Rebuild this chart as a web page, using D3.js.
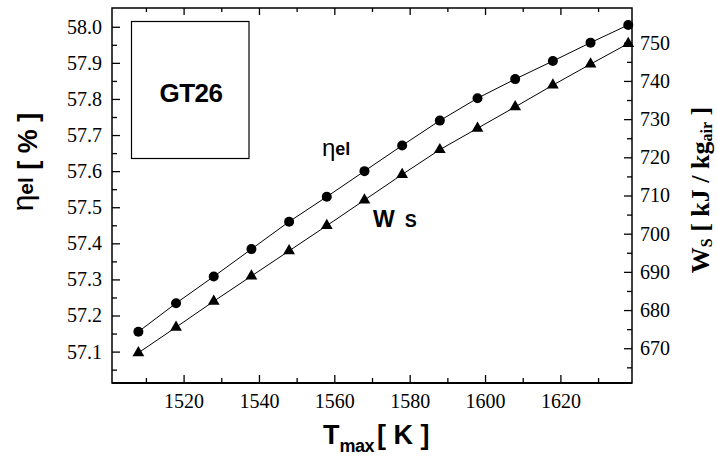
<!DOCTYPE html>
<html><head><meta charset="utf-8">
<script src="https://cdn.jsdelivr.net/npm/d3@7"></script>
<style>body{margin:0;background:#fff}svg{display:block}
.serif{font-family:"Liberation Serif","Times New Roman",Times,"DejaVu Serif",serif}
.sans{font-family:"Liberation Sans",Arial,Helvetica,sans-serif}
</style>
</head><body>
<script>
const tmax = [1508,1518,1528,1538,1548,1558,1568,1578,1588,1598,1608,1618,1628,1638];
const etaEl = [57.155,57.234,57.308,57.384,57.460,57.529,57.600,57.671,57.740,57.802,57.855,57.905,57.956,58.005];
const ws = [668.8,675.5,682.3,688.9,695.5,702.1,708.8,715.5,722.0,727.6,733.2,738.9,744.4,749.8];
const xTicks = [1520,1540,1560,1580,1600,1620];
const etaTicks = [57.1,57.2,57.3,57.4,57.5,57.6,57.7,57.8,57.9,58.0];
const wsTicks = [670,680,690,700,710,720,730,740,750];

const W=718,H=456;
const L=112,R=632,T=8,B=383;
const svg=d3.select("body").append("svg").attr("width",W).attr("height",H);
const x=d3.scaleLinear().domain([1501,1639]).range([L,R]);
const yE=d3.scaleLinear().domain([57.013,58.052]).range([B,T]);
const yW=d3.scaleLinear().domain([660.9,759.1]).range([B,T]);

function styleAxis(g){
  g.attr("font-family",null);
  g.selectAll(".domain").remove();
  g.selectAll("line").attr("stroke","#000").attr("stroke-width",1.3);
  g.selectAll("text").attr("class","serif").attr("font-size",20).attr("fill","#000");
}
const xMinor=d3.range(1510,1640,10).filter(v=>v%20!==0);
svg.append("g").attr("transform",`translate(0,${B})`).call(d3.axisBottom(x).tickValues(xTicks).tickFormat(d3.format("d")).tickSizeInner(-8).tickSizeOuter(0).tickPadding(11)).call(styleAxis);
svg.append("g").attr("transform",`translate(0,${B})`).call(d3.axisBottom(x).tickValues(xMinor).tickFormat("").tickSizeInner(-5).tickSizeOuter(0)).call(styleAxis);
svg.append("g").attr("transform",`translate(0,${T})`).call(d3.axisTop(x).tickValues(xTicks).tickFormat("").tickSizeInner(-7).tickSizeOuter(0)).call(styleAxis);
svg.append("g").attr("transform",`translate(0,${T})`).call(d3.axisTop(x).tickValues(xMinor).tickFormat("").tickSizeInner(-4).tickSizeOuter(0)).call(styleAxis);
const eMinor=d3.range(57.05,58.05,0.1).map(v=>+v.toFixed(2));
svg.append("g").attr("transform",`translate(${L},0)`).call(d3.axisLeft(yE).tickValues(etaTicks).tickFormat(d3.format(".1f")).tickSizeInner(-8).tickSizeOuter(0).tickPadding(10)).call(styleAxis);
svg.append("g").attr("transform",`translate(${L},0)`).call(d3.axisLeft(yE).tickValues(eMinor).tickFormat("").tickSizeInner(-5).tickSizeOuter(0)).call(styleAxis);
const wMinor=d3.range(665,760,10);
svg.append("g").attr("transform",`translate(${R},0)`).call(d3.axisRight(yW).tickValues(wsTicks).tickFormat(d3.format("d")).tickSizeInner(-8).tickSizeOuter(0).tickPadding(8)).call(styleAxis);
svg.append("g").attr("transform",`translate(${R},0)`).call(d3.axisRight(yW).tickValues(wMinor).tickFormat("").tickSizeInner(-5).tickSizeOuter(0)).call(styleAxis);

svg.append("rect").attr("x",L).attr("y",T).attr("width",R-L).attr("height",B-T).attr("fill","none").attr("stroke","#000").attr("stroke-width",1.5);
svg.append("line").attr("x1",L).attr("x2",R).attr("y1",B).attr("y2",B).attr("stroke","#000").attr("stroke-width",2);

const lineE=d3.line().x((d,i)=>x(tmax[i])).y(d=>yE(d));
const lineW=d3.line().x((d,i)=>x(tmax[i])).y(d=>yW(d));
svg.append("path").attr("d",lineE(etaEl)).attr("fill","none").attr("stroke","#000").attr("stroke-width",1);
svg.append("path").attr("d",lineW(ws)).attr("fill","none").attr("stroke","#000").attr("stroke-width",1);
svg.selectAll("circle.e").data(etaEl).enter().append("circle").attr("cx",(d,i)=>x(tmax[i])).attr("cy",d=>yE(d)).attr("r",5).attr("fill","#000");
const tri=d3.symbol().type(d3.symbolTriangle).size(60);
svg.selectAll("path.w").data(ws).enter().append("path").attr("d",tri).attr("transform",(d,i)=>`translate(${x(tmax[i])},${yW(d)})`).attr("fill","#000");

svg.append("rect").attr("x",131.5).attr("y",21.5).attr("width",117.5).attr("height",137).attr("fill","none").attr("stroke","#000").attr("stroke-width",1.2);
svg.append("text").attr("class","sans").attr("x",191).attr("y",102).attr("text-anchor","middle").attr("font-weight","bold").attr("font-size",26).attr("letter-spacing",-0.5).text("GT26");

const te=svg.append("text").attr("class","sans").attr("x",322).attr("y",156).attr("font-size",24);
te.append("tspan").text("η");
te.append("tspan").attr("font-weight","bold").attr("font-size",18).attr("dy",-1).text("el");
const tw=svg.append("text").attr("class","sans").attr("x",373).attr("y",227).attr("font-weight","bold").attr("font-size",23);
tw.append("tspan").text("W");
tw.append("tspan").attr("font-size",18).attr("dx",10).text("S");

const lt=svg.append("text").attr("class","sans").attr("transform","translate(37,162) rotate(-90)").attr("text-anchor","middle").attr("font-size",27).attr("font-weight","bold");
lt.append("tspan").attr("font-weight","normal").attr("font-size",30).attr("dy",-4).text("η");
lt.append("tspan").attr("font-size",21).text("el");
lt.append("tspan").attr("dy",4).text(" [ % ]");

const rt=svg.append("text").attr("class","serif").attr("transform","translate(709,190) rotate(-90)").attr("text-anchor","middle").attr("font-size",26).attr("font-weight","bold");
rt.append("tspan").text("W");
rt.append("tspan").attr("font-size",16).attr("dy",3).text("S");
rt.append("tspan").attr("dy",-3).text(" [ kJ / kg");
rt.append("tspan").attr("font-size",16).attr("dy",3).text("air");
rt.append("tspan").attr("dy",-3).text(" ]");

const xt=svg.append("text").attr("class","sans").attr("x",323).attr("y",444).attr("font-weight","bold").attr("font-size",27);
xt.append("tspan").text("T");
xt.append("tspan").attr("font-size",18).attr("dy",8).attr("letter-spacing",-0.5).text("max");
xt.append("tspan").attr("dy",-8).attr("dx",3).text("[ K ]");
</script>
</body></html>
